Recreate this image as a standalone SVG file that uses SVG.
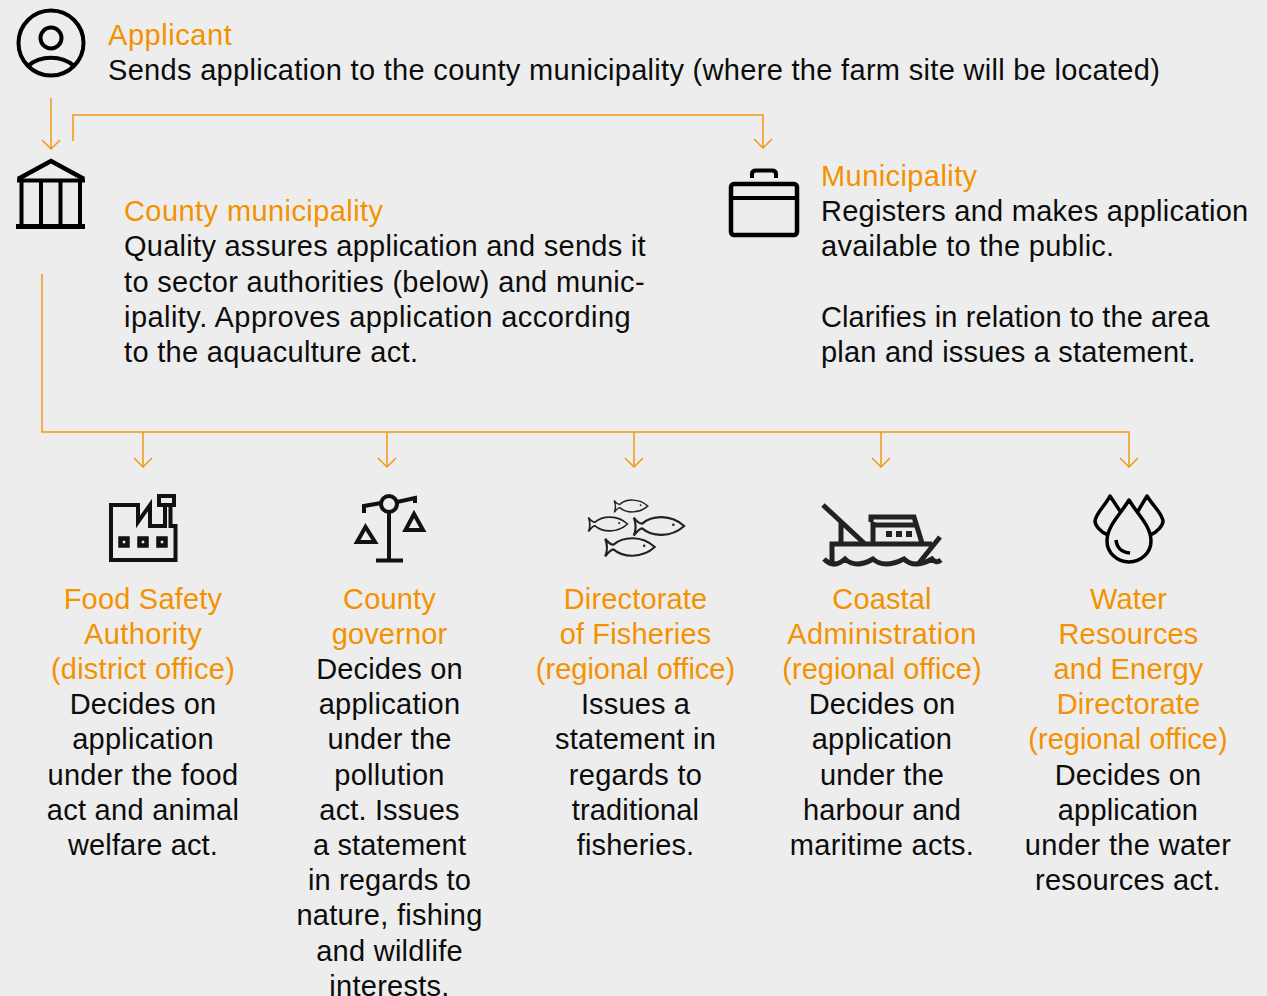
<svg xmlns="http://www.w3.org/2000/svg" width="1267" height="996" viewBox="0 0 1267 996">
<style>
text{font-family:"Liberation Sans",Arial,sans-serif;font-size:29px;fill:#0c0c0c;letter-spacing:.27px}
.o{fill:#f39200;letter-spacing:.42px}
.s{letter-spacing:.15px}
.r{letter-spacing:0}
.m{text-anchor:middle}
.c{fill:none;stroke:#f39614;stroke-width:1.5}
.i{fill:none;stroke:#000;stroke-width:4}
.k{fill:none;stroke:#111;stroke-width:4}
.f{fill:none;stroke:#222;stroke-width:1.8}
.b{fill:none;stroke:#222;stroke-width:5}
.d{fill:none;stroke:#000;stroke-width:3.500;stroke-linejoin:round}
</style>
<defs>
<path id="h" d="M-9 -9L0 0L9 -9" class="c"/>
<g id="fish"><path class="f" d="M-21 -7C-18 -3 -16 -2 -14 -2C-6 -9 10 -10 21 0C10 10 -6 9 -14 2C-16 2 -18 4 -21 8C-19 3 -19 -2 -21 -7Z"/><circle cx="12" cy="-1" r="1.1" fill="#222"/></g>
</defs>
<rect width="1267" height="996" fill="#ededed"/>
<g id="connectors">
<path class="c" d="M51 98V149"/><use href="#h" x="51" y="149"/>
<path class="c" d="M73 141V115H763V148"/><use href="#h" x="763" y="148"/>
<path class="c" d="M42 274V432H1129V467"/><use href="#h" x="1129" y="467"/>
<path class="c" d="M143 432V467M387 432V467M634 432V467M881 432V467"/>
<use href="#h" x="143" y="467"/><use href="#h" x="387" y="467"/><use href="#h" x="634" y="467"/><use href="#h" x="881" y="467"/>
</g>
<g id="applicant">
<circle class="i" cx="51" cy="43" r="32.500"/><circle class="i" cx="51" cy="38" r="10.500"/><path class="i" d="M28 66C40 55 62 55 74 66"/>
<text x="108" y="45" class="o" style="letter-spacing:.55px">Applicant</text>
<text x="108" y="80" style="letter-spacing:.31px">Sends application to the county municipality (where the farm site will be located)</text>
</g>
<g id="county-municipality">
<path fill="none" stroke="#000" stroke-width="4.500" d="M18 179L51 161L84 179"/>
<path stroke="#000" stroke-width="4" d="M17 180.500H85M21.500 180V226M41 180V226M60.500 180V226M80 180V226" fill="none"/>
<path stroke="#000" stroke-width="5" d="M16 226.500H85" fill="none"/>
<text x="124" y="221" class="o">County municipality</text>
<text x="124" y="256">Quality assures application and sends it</text>
<text x="124" y="292" style="letter-spacing:.33px">to sector authorities (below) and munic-</text>
<text x="124" y="327" style="letter-spacing:.45px">ipality. Approves application according</text>
<text x="124" y="362" style="letter-spacing:.32px">to the aquaculture act.</text>
</g>
<g id="municipality">
<rect x="731" y="184" width="66" height="51" rx="3" fill="none" stroke="#000" stroke-width="4.500"/>
<path class="i" d="M731 198H797"/>
<path d="M752 178V174Q752 170.500 756 170.500H772Q776 170.500 776 174V178" fill="none" stroke="#000" stroke-width="4"/>
<text x="821" y="186" class="o">Municipality</text>
<text x="821" y="221">Registers and makes application</text>
<text x="821" y="256">available to the public.</text>
<text x="821" y="327" style="letter-spacing:.1px">Clarifies in relation to the area</text>
<text x="821" y="362" style="letter-spacing:.2px">plan and issues a statement.</text>
</g>
<g id="food-safety">
<path class="k" d="M111 560V505H138V522L150 505V526H165V505H170.500V526H175.500V560Z"/>
<rect x="159" y="496" width="15" height="9" class="k"/>
<path fill="none" stroke="#111" stroke-width="4.500" d="M120.500 538.500h7v7h-7zM139.500 538.500h7v7h-7zM158.500 538.500h7v7h-7z"/>
<g class="m">
<text x="143" y="609" class="o" style="letter-spacing:.2px">Food Safety</text>
<text x="143" y="644" class="o">Authority</text>
<text x="143" y="679" class="o" style="letter-spacing:.25px">(district office)</text>
<text x="143" y="714" class="s">Decides on</text>
<text x="143" y="749">application</text>
<text x="143" y="785">under the food</text>
<text x="143" y="820">act and animal</text>
<text x="143" y="855" class="s">welfare act.</text>
</g>
</g>
<g id="county-governor">
<circle cx="389" cy="504" r="8" class="k"/>
<path class="k" d="M389 512V560M376 560.500H403M364 513V506L381 503M397 502L415 498V503"/>
<path class="k" d="M365.500 527L357 542H375ZM414 514L405.500 530H423Z"/>
<g class="m">
<text x="389.500" y="609" class="o s">County</text>
<text x="389.500" y="644" class="o s">governor</text>
<text x="389.500" y="679" class="s">Decides on</text>
<text x="389.500" y="714">application</text>
<text x="389.500" y="749" class="s">under the</text>
<text x="389.500" y="785">pollution</text>
<text x="389.500" y="820" class="s">act. Issues</text>
<text x="389.500" y="855" class="s">a statement</text>
<text x="389.500" y="890" class="s">in regards to</text>
<text x="389.500" y="925">nature, fishing</text>
<text x="389.500" y="961">and wildlife</text>
<text x="389.500" y="996">interests.</text>
</g>
</g>
<g id="directorate-of-fisheries">
<use href="#fish" transform="translate(631 506) scale(.8)"/>
<use href="#fish" transform="translate(608 524) scale(.93)"/>
<use href="#fish" transform="translate(659 526) scale(1.2)"/>
<use href="#fish" transform="translate(630 547) scale(1.18)"/>
<g class="m">
<text x="635.500" y="609" class="o s">Directorate</text>
<text x="635.500" y="644" class="o s">of Fisheries</text>
<text x="635.500" y="679" class="o r">(regional office)</text>
<text x="635.500" y="714" class="s">Issues a</text>
<text x="635.500" y="749">statement in</text>
<text x="635.500" y="785">regards to</text>
<text x="635.500" y="820" class="s">traditional</text>
<text x="635.500" y="855" class="s">fisheries.</text>
</g>
</g>
<g id="coastal-administration">
<path class="b" d="M823 505L865 544M841 523V543M832 562V544H932M873 543V522M871 522V517H914L922 543M871 525H915M940 537L919 563"/>
<path class="b" d="M824 559Q834 569 845 559Q856 569 873 559Q884 569 904 559Q914 569 932 559Q936 564 941 560"/>
<path d="M886 531h6v6h-6zM896 531h6v6h-6zM906 531h6v6h-6z" fill="#222"/>
<g class="m">
<text x="882" y="609" class="o s">Coastal</text>
<text x="882" y="644" class="o">Administration</text>
<text x="882" y="679" class="o r">(regional office)</text>
<text x="882" y="714" class="s">Decides on</text>
<text x="882" y="749" class="s">application</text>
<text x="882" y="785" class="s">under the</text>
<text x="882" y="820" class="s">harbour and</text>
<text x="882" y="855">maritime acts.</text>
</g>
</g>
<g id="water-resources">
<path class="d" d="M1129 500C1120 515 1107 526 1107 541A22 21 0 0 0 1151 541C1151 526 1138 515 1129 500Z"/>
<path class="d" d="M1108 535C1100 532 1095 525 1095 521C1096 513 1105 506 1110 496L1120 511M1150 535C1158 532 1163 525 1163 521C1162 513 1153 506 1147 496L1138 511M1116 540C1117 549 1122 552 1130 553"/>
<g class="m">
<text x="1128.500" y="609" class="o s">Water</text>
<text x="1128.500" y="644" class="o s">Resources</text>
<text x="1128.500" y="679" class="o s">and Energy</text>
<text x="1128.500" y="714" class="o s">Directorate</text>
<text x="1128" y="749" class="o r">(regional office)</text>
<text x="1128" y="785" class="s">Decides on</text>
<text x="1128" y="820" class="s">application</text>
<text x="1128" y="855" style="letter-spacing:.33px">under the water</text>
<text x="1128" y="890">resources act.</text>
</g>
</g>
</svg>
